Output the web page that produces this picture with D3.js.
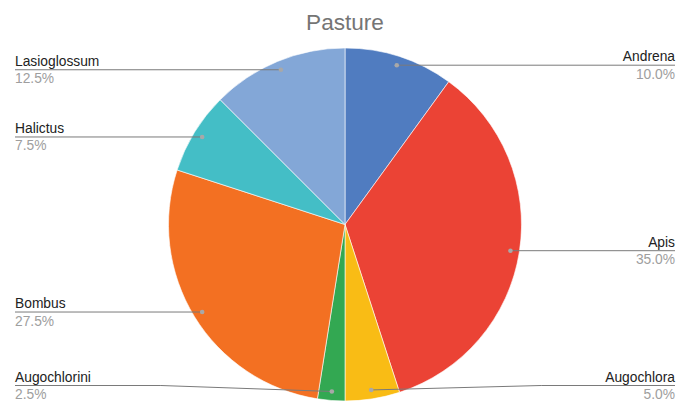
<!DOCTYPE html>
<html>
<head>
<meta charset="utf-8">
<script src="https://cdn.jsdelivr.net/npm/d3@7"></script>
<style>
  html, body { margin: 0; padding: 0; background: #fff; }
  svg { display: block; font-family: "Liberation Sans", Arial, sans-serif; }
</style>
</head>
<body>
<svg id="chart" width="690" height="404"></svg>
<script>
// ---- data ----
const title = "Pasture";
const categories = ["Andrena", "Apis", "Augochlora", "Augochlorini", "Bombus", "Halictus", "Lasioglossum"];
const values = [10.0, 35.0, 5.0, 2.5, 27.5, 7.5, 12.5];
const colors = ["#507cc0", "#eb4335", "#f9bc15", "#33a852", "#f37022", "#44bec6", "#83a7d7"];

// ---- layout ----
const W = 690, H = 404;
const cx = 345, cy = 224.5, R = 176.5, dotR = 167.5;
const leftX = 15, rightX = 675, maxLabelY = 385.5;

const svg = d3.select("#chart");

svg.append("text")
  .attr("x", cx).attr("y", 30)
  .attr("text-anchor", "middle")
  .attr("font-size", 22.6)
  .attr("fill", "#757575")
  .text(title);

const data = categories.map((c, i) => ({ name: c, value: values[i], color: colors[i] }));
const pie = d3.pie().value(d => d.value).sort(null);
const arcs = pie(data);
const total = d3.sum(values);

const arc = d3.arc().innerRadius(0).outerRadius(R);
const g = svg.append("g").attr("transform", `translate(${cx},${cy})`);
g.selectAll("path").data(arcs).join("path")
  .attr("d", arc)
  .attr("fill", d => d.data.color)
  .attr("stroke", "#ffffff")
  .attr("stroke-width", 0.6);

const fmt = d3.format(".1f");
const labels = svg.append("g");
arcs.forEach(a => {
  const mid = (a.startAngle + a.endAngle) / 2;
  const dx = cx + dotR * Math.sin(mid);
  const dy = cy - dotR * Math.cos(mid);
  const right = Math.sin(mid) > 0;
  const ly = Math.min(dy, maxLabelY);
  const endX = right ? rightX : leftX;
  let pts;
  if (Math.abs(ly - dy) > 0.5) {
    const elbowX = right ? dx + 170 : dx - 171;
    pts = [[dx, dy], [elbowX, ly], [endX, ly]];
  } else {
    pts = [[dx, dy], [endX, ly]];
  }
  labels.append("path")
    .attr("d", d3.line()(pts))
    .attr("fill", "none")
    .attr("stroke", "#7a7a7a")
    .attr("stroke-width", 1);
  labels.append("circle")
    .attr("cx", dx).attr("cy", dy).attr("r", 2.3)
    .attr("fill", "#a8a8a8");
  labels.append("text")
    .attr("x", endX).attr("y", ly - 4)
    .attr("text-anchor", right ? "end" : "start")
    .attr("font-size", 13.8)
    .attr("fill", "#222222")
    .text(a.data.name);
  labels.append("text")
    .attr("x", endX).attr("y", ly + 13.5)
    .attr("text-anchor", right ? "end" : "start")
    .attr("font-size", 13.8)
    .attr("fill", "#9e9e9e")
    .text(fmt(a.data.value / total * 100) + "%");
});
</script>
</body>
</html>
